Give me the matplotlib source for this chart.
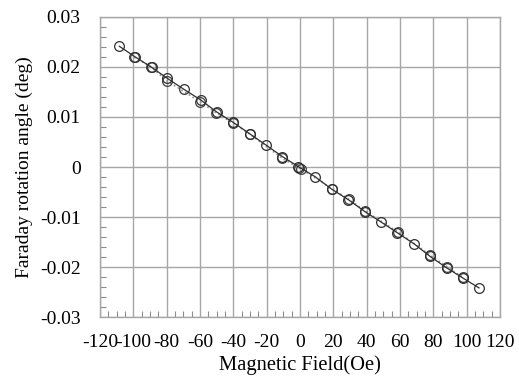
import numpy as np
import matplotlib
matplotlib.use('Agg')
import matplotlib.pyplot as plt
from matplotlib.ticker import MultipleLocator

# Faraday rotation vs field, two sweeps
field_a = [-108.4, -99, -89, -79.6, -69.6, -59.6, -50, -40, -30, -20.4, -10.6, -1,
           9, 19, 29, 39, 48.4, 58.4, 68.4, 78, 88, 97.6, 107.4]
rot_a = [0.0241, 0.0220, 0.0199, 0.0177, 0.0155, 0.0134, 0.0110, 0.0089, 0.0066,
         0.0044, 0.0021, 0.0001, -0.0019, -0.0044, -0.0065, -0.0089, -0.0109,
         -0.0131, -0.0153, -0.0178, -0.0201, -0.0221, -0.0241]

field_b = [-99.4, -89.4, -79.8, -59.8, -50.2, -40.2, -30.2, -10.8, -0.6,
           0.4, 19.2, 29.2, 39.2, 58.6, 78.2, 88.2, 97.8]
rot_b = [0.0219, 0.0200, 0.0172, 0.0130, 0.0108, 0.0088, 0.0066, 0.0018, -0.0002,
         -0.0003, -0.0043, -0.0064, -0.0088, -0.0129, -0.0176, -0.0199, -0.0220]

xticks = np.arange(-120, 121, 20)
yticks = [-0.03, -0.02, -0.01, 0, 0.01, 0.02, 0.03]
ytick_labels = ['-0.03', '-0.02', '-0.01', '0', '0.01', '0.02', '0.03']

plt.rcParams['font.family'] = 'Liberation Serif'
plt.rcParams['axes.unicode_minus'] = False

fig = plt.figure(figsize=(5.19, 3.76), dpi=100)
ax = fig.add_axes([0.1927, 0.1556, 0.7707, 0.8])

ax.plot(field_b, rot_b, color='#909090', linestyle=':', linewidth=1.2,
        marker='o', markersize=7, markerfacecolor='none',
        markeredgecolor='#404040', markeredgewidth=0.9, zorder=3)
ax.plot(field_a, rot_a, color='#303030', linestyle='-', linewidth=0.9,
        marker='o', markersize=7, markerfacecolor='none',
        markeredgecolor='#303030', markeredgewidth=0.9, zorder=4)

ax.set_xlim(-120, 120)
ax.set_ylim(-0.03, 0.03)
ax.set_xticks(xticks)
ax.set_yticks(yticks)
ax.set_yticklabels(ytick_labels)
ax.xaxis.set_minor_locator(MultipleLocator(5))
ax.yaxis.set_minor_locator(MultipleLocator(0.002))

ax.grid(True, which='major', color='#a6a6a6', linewidth=1.0)
ax.set_axisbelow(True)
ax.tick_params(which='major', length=0, labelsize=14, pad=12)
ax.tick_params(axis='y', which='major', pad=14)
ax.tick_params(which='minor', direction='in', length=4, width=0.8, color='#8c8c8c')
ax.tick_params(axis='x', which='minor', top=False)
ax.tick_params(axis='y', which='minor', right=False)

for side in ['left', 'bottom', 'right', 'top']:
    ax.spines[side].set_color('#a6a6a6')
    ax.spines[side].set_linewidth(1.0)

ax.set_xlabel('Magnetic Field(Oe)', fontsize=14.8)
ax.set_ylabel('Faraday rotation angle (deg)', fontsize=14)
ax.xaxis.set_label_coords(0.5, -0.125)
ax.yaxis.set_label_coords(-0.168, 0.5)

fig.savefig('out.png', dpi=100)
